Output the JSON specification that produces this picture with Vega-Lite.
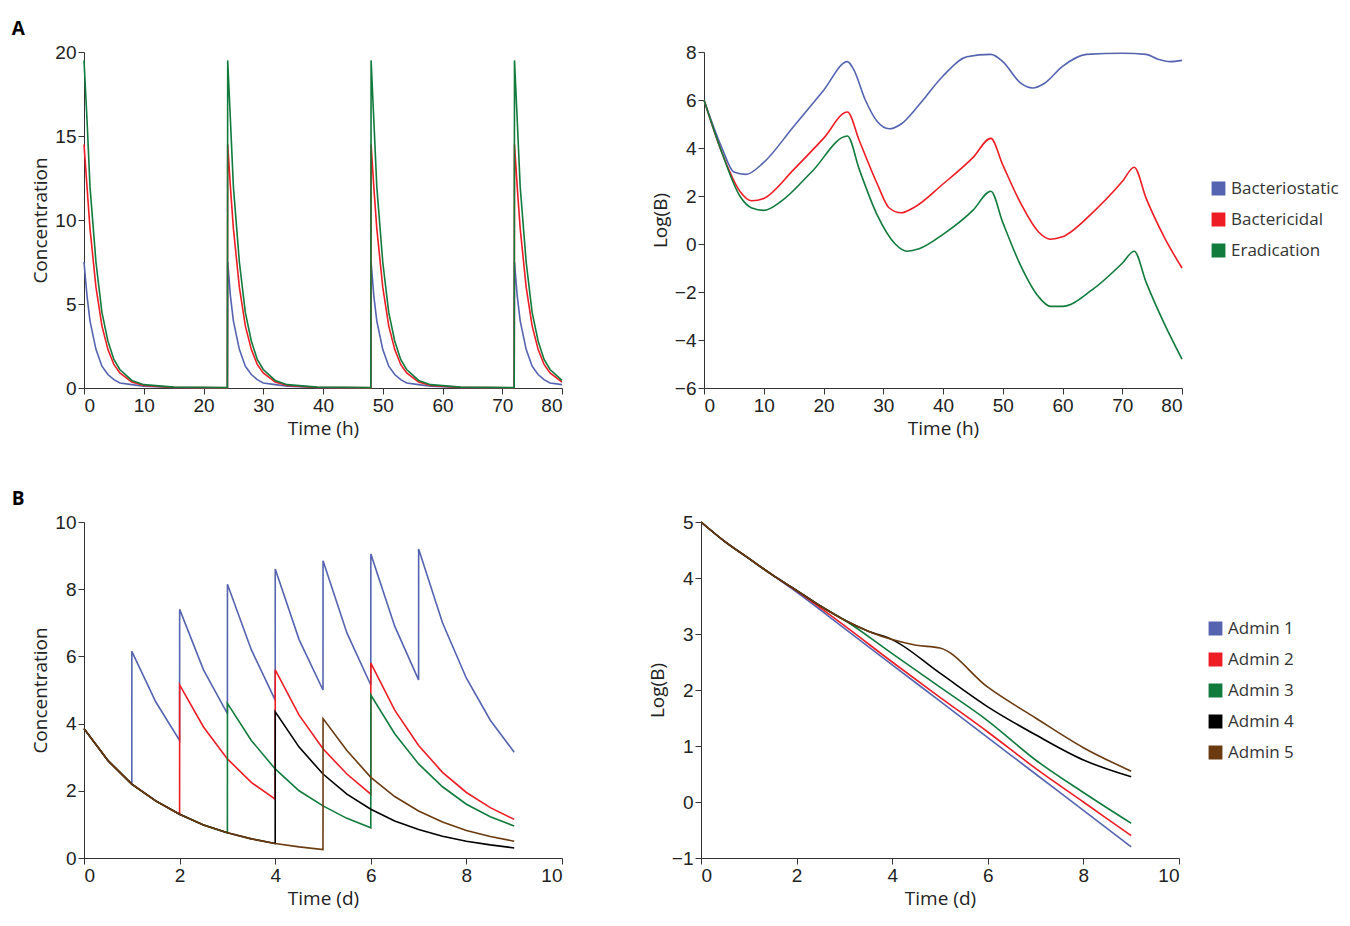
{
  "$schema": "https://vega.github.io/schema/vega-lite/v6.json",
  "background": "white",
  "padding": {"left": 11, "top": 20, "right": 5, "bottom": 5},
  "config": {
    "font": "Open Sans",
    "view": {"stroke": null},
    "axis": {"grid": false, "labelFontSize": 19, "titleFontSize": 19, "titleFontWeight": "normal", "labelColor": "#222", "titleColor": "#222", "domainColor": "#333", "tickColor": "#333", "tickSize": 6, "labelFont": "Liberation Sans"},
    "legend": {"labelFontSize": 17, "labelColor": "#333", "labelLimit": 300, "symbolType": "square", "symbolSize": 150, "symbolOpacity": 1, "title": null, "rowPadding": 12, "orient": "none"},
    "line": {"strokeWidth": 1.6},
    "title": {"fontSize": 19, "fontWeight": "bold", "anchor": "start", "offset": 0, "dx": -20}
  },
  "datasets": {
    "conc": [
      {"s":"Bacteriostatic","t":0,"v":7.5},{"s":"Bacteriostatic","t":0.5,"v":5.5},{"s":"Bacteriostatic","t":1,"v":4},{"s":"Bacteriostatic","t":2,"v":2.3},{"s":"Bacteriostatic","t":3,"v":1.3},{"s":"Bacteriostatic","t":4,"v":0.8},{"s":"Bacteriostatic","t":5,"v":0.5},{"s":"Bacteriostatic","t":6,"v":0.3},{"s":"Bacteriostatic","t":8,"v":0.2},{"s":"Bacteriostatic","t":10,"v":0.1},{"s":"Bacteriostatic","t":15,"v":0.03},{"s":"Bacteriostatic","t":24,"v":0.01},
      {"s":"Bacteriostatic","t":24.05,"v":7.5},{"s":"Bacteriostatic","t":24.5,"v":5.5},{"s":"Bacteriostatic","t":25,"v":4},{"s":"Bacteriostatic","t":26,"v":2.3},{"s":"Bacteriostatic","t":27,"v":1.3},{"s":"Bacteriostatic","t":28,"v":0.8},{"s":"Bacteriostatic","t":29,"v":0.5},{"s":"Bacteriostatic","t":30,"v":0.3},{"s":"Bacteriostatic","t":32,"v":0.2},{"s":"Bacteriostatic","t":34,"v":0.1},{"s":"Bacteriostatic","t":39,"v":0.03},{"s":"Bacteriostatic","t":48,"v":0.01},
      {"s":"Bacteriostatic","t":48.05,"v":7.5},{"s":"Bacteriostatic","t":48.5,"v":5.5},{"s":"Bacteriostatic","t":49,"v":4},{"s":"Bacteriostatic","t":50,"v":2.3},{"s":"Bacteriostatic","t":51,"v":1.3},{"s":"Bacteriostatic","t":52,"v":0.8},{"s":"Bacteriostatic","t":53,"v":0.5},{"s":"Bacteriostatic","t":54,"v":0.3},{"s":"Bacteriostatic","t":56,"v":0.2},{"s":"Bacteriostatic","t":58,"v":0.1},{"s":"Bacteriostatic","t":63,"v":0.03},{"s":"Bacteriostatic","t":72,"v":0.01},
      {"s":"Bacteriostatic","t":72.05,"v":7.5},{"s":"Bacteriostatic","t":72.5,"v":5.5},{"s":"Bacteriostatic","t":73,"v":4},{"s":"Bacteriostatic","t":74,"v":2.3},{"s":"Bacteriostatic","t":75,"v":1.3},{"s":"Bacteriostatic","t":76,"v":0.8},{"s":"Bacteriostatic","t":77,"v":0.5},{"s":"Bacteriostatic","t":78,"v":0.3},{"s":"Bacteriostatic","t":80,"v":0.2},
      {"s":"Bactericidal","t":0,"v":14.5},{"s":"Bactericidal","t":0.5,"v":12},{"s":"Bactericidal","t":1,"v":9.5},{"s":"Bactericidal","t":2,"v":6},{"s":"Bactericidal","t":3,"v":3.7},{"s":"Bactericidal","t":4,"v":2.3},{"s":"Bactericidal","t":5,"v":1.4},{"s":"Bactericidal","t":6,"v":0.9},{"s":"Bactericidal","t":8,"v":0.35},{"s":"Bactericidal","t":10,"v":0.15},{"s":"Bactericidal","t":15,"v":0.04},{"s":"Bactericidal","t":24,"v":0.01},
      {"s":"Bactericidal","t":24.05,"v":14.5},{"s":"Bactericidal","t":24.5,"v":12},{"s":"Bactericidal","t":25,"v":9.5},{"s":"Bactericidal","t":26,"v":6},{"s":"Bactericidal","t":27,"v":3.7},{"s":"Bactericidal","t":28,"v":2.3},{"s":"Bactericidal","t":29,"v":1.4},{"s":"Bactericidal","t":30,"v":0.9},{"s":"Bactericidal","t":32,"v":0.35},{"s":"Bactericidal","t":34,"v":0.15},{"s":"Bactericidal","t":39,"v":0.04},{"s":"Bactericidal","t":48,"v":0.01},
      {"s":"Bactericidal","t":48.05,"v":14.5},{"s":"Bactericidal","t":48.5,"v":12},{"s":"Bactericidal","t":49,"v":9.5},{"s":"Bactericidal","t":50,"v":6},{"s":"Bactericidal","t":51,"v":3.7},{"s":"Bactericidal","t":52,"v":2.3},{"s":"Bactericidal","t":53,"v":1.4},{"s":"Bactericidal","t":54,"v":0.9},{"s":"Bactericidal","t":56,"v":0.35},{"s":"Bactericidal","t":58,"v":0.15},{"s":"Bactericidal","t":63,"v":0.04},{"s":"Bactericidal","t":72,"v":0.01},
      {"s":"Bactericidal","t":72.05,"v":14.5},{"s":"Bactericidal","t":72.5,"v":12},{"s":"Bactericidal","t":73,"v":9.5},{"s":"Bactericidal","t":74,"v":6},{"s":"Bactericidal","t":75,"v":3.7},{"s":"Bactericidal","t":76,"v":2.3},{"s":"Bactericidal","t":77,"v":1.4},{"s":"Bactericidal","t":78,"v":0.9},{"s":"Bactericidal","t":80,"v":0.35},
      {"s":"Eradication","t":0,"v":19.5},{"s":"Eradication","t":0.5,"v":16},{"s":"Eradication","t":1,"v":12},{"s":"Eradication","t":2,"v":7.5},{"s":"Eradication","t":3,"v":4.5},{"s":"Eradication","t":4,"v":2.8},{"s":"Eradication","t":5,"v":1.7},{"s":"Eradication","t":6,"v":1.1},{"s":"Eradication","t":8,"v":0.45},{"s":"Eradication","t":10,"v":0.2},{"s":"Eradication","t":15,"v":0.05},{"s":"Eradication","t":24,"v":0.02},
      {"s":"Eradication","t":24.05,"v":19.5},{"s":"Eradication","t":24.5,"v":16},{"s":"Eradication","t":25,"v":12},{"s":"Eradication","t":26,"v":7.5},{"s":"Eradication","t":27,"v":4.5},{"s":"Eradication","t":28,"v":2.8},{"s":"Eradication","t":29,"v":1.7},{"s":"Eradication","t":30,"v":1.1},{"s":"Eradication","t":32,"v":0.45},{"s":"Eradication","t":34,"v":0.2},{"s":"Eradication","t":39,"v":0.05},{"s":"Eradication","t":48,"v":0.02},
      {"s":"Eradication","t":48.05,"v":19.5},{"s":"Eradication","t":48.5,"v":16},{"s":"Eradication","t":49,"v":12},{"s":"Eradication","t":50,"v":7.5},{"s":"Eradication","t":51,"v":4.5},{"s":"Eradication","t":52,"v":2.8},{"s":"Eradication","t":53,"v":1.7},{"s":"Eradication","t":54,"v":1.1},{"s":"Eradication","t":56,"v":0.45},{"s":"Eradication","t":58,"v":0.2},{"s":"Eradication","t":63,"v":0.05},{"s":"Eradication","t":72,"v":0.02},
      {"s":"Eradication","t":72.05,"v":19.5},{"s":"Eradication","t":72.5,"v":16},{"s":"Eradication","t":73,"v":12},{"s":"Eradication","t":74,"v":7.5},{"s":"Eradication","t":75,"v":4.5},{"s":"Eradication","t":76,"v":2.8},{"s":"Eradication","t":77,"v":1.7},{"s":"Eradication","t":78,"v":1.1},{"s":"Eradication","t":80,"v":0.45}
    ],
    "logb": [
      {"s":"Bacteriostatic","t":0,"v":6},{"s":"Bacteriostatic","t":3,"v":4},{"s":"Bacteriostatic","t":5,"v":3},{"s":"Bacteriostatic","t":7,"v":2.9},{"s":"Bacteriostatic","t":10,"v":3.4},{"s":"Bacteriostatic","t":15,"v":4.9},{"s":"Bacteriostatic","t":20,"v":6.4},{"s":"Bacteriostatic","t":24,"v":7.6},{"s":"Bacteriostatic","t":25,"v":7.3},{"s":"Bacteriostatic","t":27,"v":6},{"s":"Bacteriostatic","t":29,"v":5.1},{"s":"Bacteriostatic","t":31,"v":4.8},{"s":"Bacteriostatic","t":33,"v":5},{"s":"Bacteriostatic","t":36,"v":5.8},{"s":"Bacteriostatic","t":40,"v":7},{"s":"Bacteriostatic","t":44,"v":7.8},{"s":"Bacteriostatic","t":48,"v":7.9},{"s":"Bacteriostatic","t":50,"v":7.6},{"s":"Bacteriostatic","t":53,"v":6.7},{"s":"Bacteriostatic","t":55,"v":6.5},{"s":"Bacteriostatic","t":57,"v":6.7},{"s":"Bacteriostatic","t":60,"v":7.4},{"s":"Bacteriostatic","t":64,"v":7.9},{"s":"Bacteriostatic","t":70,"v":7.95},{"s":"Bacteriostatic","t":74,"v":7.9},{"s":"Bacteriostatic","t":76,"v":7.7},{"s":"Bacteriostatic","t":78,"v":7.6},{"s":"Bacteriostatic","t":80,"v":7.65},
      {"s":"Bactericidal","t":0,"v":6},{"s":"Bactericidal","t":3,"v":3.8},{"s":"Bactericidal","t":6,"v":2.2},{"s":"Bactericidal","t":8,"v":1.8},{"s":"Bactericidal","t":10,"v":1.9},{"s":"Bactericidal","t":15,"v":3.1},{"s":"Bactericidal","t":20,"v":4.4},{"s":"Bactericidal","t":24,"v":5.5},{"s":"Bactericidal","t":26,"v":4.3},{"s":"Bactericidal","t":29,"v":2.5},{"s":"Bactericidal","t":31,"v":1.5},{"s":"Bactericidal","t":33,"v":1.3},{"s":"Bactericidal","t":35,"v":1.5},{"s":"Bactericidal","t":40,"v":2.5},{"s":"Bactericidal","t":45,"v":3.6},{"s":"Bactericidal","t":48,"v":4.4},{"s":"Bactericidal","t":50,"v":3.3},{"s":"Bactericidal","t":53,"v":1.7},{"s":"Bactericidal","t":56,"v":0.5},{"s":"Bactericidal","t":58,"v":0.2},{"s":"Bactericidal","t":60,"v":0.3},{"s":"Bactericidal","t":65,"v":1.3},{"s":"Bactericidal","t":70,"v":2.6},{"s":"Bactericidal","t":72,"v":3.2},{"s":"Bactericidal","t":74,"v":1.9},{"s":"Bactericidal","t":77,"v":0.3},{"s":"Bactericidal","t":80,"v":-1},
      {"s":"Eradication","t":0,"v":6},{"s":"Eradication","t":3,"v":3.8},{"s":"Eradication","t":6,"v":2},{"s":"Eradication","t":8,"v":1.5},{"s":"Eradication","t":10,"v":1.4},{"s":"Eradication","t":13,"v":1.8},{"s":"Eradication","t":18,"v":3},{"s":"Eradication","t":24,"v":4.5},{"s":"Eradication","t":26,"v":3.1},{"s":"Eradication","t":29,"v":1.2},{"s":"Eradication","t":32,"v":0},{"s":"Eradication","t":34,"v":-0.3},{"s":"Eradication","t":36,"v":-0.2},{"s":"Eradication","t":40,"v":0.4},{"s":"Eradication","t":45,"v":1.4},{"s":"Eradication","t":48,"v":2.2},{"s":"Eradication","t":50,"v":0.9},{"s":"Eradication","t":53,"v":-0.9},{"s":"Eradication","t":56,"v":-2.2},{"s":"Eradication","t":58,"v":-2.6},{"s":"Eradication","t":60,"v":-2.6},{"s":"Eradication","t":65,"v":-1.9},{"s":"Eradication","t":70,"v":-0.8},{"s":"Eradication","t":72,"v":-0.3},{"s":"Eradication","t":74,"v":-1.6},{"s":"Eradication","t":77,"v":-3.3},{"s":"Eradication","t":80,"v":-4.8}
    ],
    "admc": [
      {"s":"Admin 1","t":0,"v":3.85},{"s":"Admin 1","t":0.5,"v":2.9},{"s":"Admin 1","t":1,"v":2.2},{"s":"Admin 1","t":1.001,"v":6.15},{"s":"Admin 1","t":1.5,"v":4.65},{"s":"Admin 1","t":2,"v":3.5},{"s":"Admin 1","t":2.001,"v":7.4},{"s":"Admin 1","t":2.5,"v":5.6},{"s":"Admin 1","t":3,"v":4.3},{"s":"Admin 1","t":3.001,"v":8.15},{"s":"Admin 1","t":3.5,"v":6.2},{"s":"Admin 1","t":4,"v":4.7},{"s":"Admin 1","t":4.001,"v":8.6},{"s":"Admin 1","t":4.5,"v":6.5},{"s":"Admin 1","t":5,"v":5},{"s":"Admin 1","t":5.001,"v":8.85},{"s":"Admin 1","t":5.5,"v":6.7},{"s":"Admin 1","t":6,"v":5.15},{"s":"Admin 1","t":6.001,"v":9.05},{"s":"Admin 1","t":6.5,"v":6.9},{"s":"Admin 1","t":7,"v":5.3},{"s":"Admin 1","t":7.001,"v":9.2},{"s":"Admin 1","t":7.5,"v":7},{"s":"Admin 1","t":8,"v":5.35},{"s":"Admin 1","t":8.5,"v":4.1},{"s":"Admin 1","t":9,"v":3.15},
      {"s":"Admin 2","t":0,"v":3.85},{"s":"Admin 2","t":0.5,"v":2.9},{"s":"Admin 2","t":1,"v":2.2},{"s":"Admin 2","t":1.5,"v":1.7},{"s":"Admin 2","t":2,"v":1.3},{"s":"Admin 2","t":2.001,"v":5.15},{"s":"Admin 2","t":2.5,"v":3.9},{"s":"Admin 2","t":3,"v":2.95},{"s":"Admin 2","t":3.5,"v":2.25},{"s":"Admin 2","t":4,"v":1.75},{"s":"Admin 2","t":4.001,"v":5.6},{"s":"Admin 2","t":4.5,"v":4.25},{"s":"Admin 2","t":5,"v":3.25},{"s":"Admin 2","t":5.5,"v":2.5},{"s":"Admin 2","t":6,"v":1.9},{"s":"Admin 2","t":6.001,"v":5.8},{"s":"Admin 2","t":6.5,"v":4.4},{"s":"Admin 2","t":7,"v":3.35},{"s":"Admin 2","t":7.5,"v":2.55},{"s":"Admin 2","t":8,"v":1.95},{"s":"Admin 2","t":8.5,"v":1.5},{"s":"Admin 2","t":9,"v":1.15},
      {"s":"Admin 3","t":0,"v":3.85},{"s":"Admin 3","t":0.5,"v":2.9},{"s":"Admin 3","t":1,"v":2.2},{"s":"Admin 3","t":1.5,"v":1.7},{"s":"Admin 3","t":2,"v":1.3},{"s":"Admin 3","t":2.5,"v":0.98},{"s":"Admin 3","t":3,"v":0.75},{"s":"Admin 3","t":3.001,"v":4.6},{"s":"Admin 3","t":3.5,"v":3.5},{"s":"Admin 3","t":4,"v":2.65},{"s":"Admin 3","t":4.5,"v":2},{"s":"Admin 3","t":5,"v":1.55},{"s":"Admin 3","t":5.5,"v":1.18},{"s":"Admin 3","t":6,"v":0.9},{"s":"Admin 3","t":6.001,"v":4.85},{"s":"Admin 3","t":6.5,"v":3.7},{"s":"Admin 3","t":7,"v":2.8},{"s":"Admin 3","t":7.5,"v":2.12},{"s":"Admin 3","t":8,"v":1.6},{"s":"Admin 3","t":8.5,"v":1.23},{"s":"Admin 3","t":9,"v":0.95},
      {"s":"Admin 4","t":0,"v":3.85},{"s":"Admin 4","t":0.5,"v":2.9},{"s":"Admin 4","t":1,"v":2.2},{"s":"Admin 4","t":1.5,"v":1.7},{"s":"Admin 4","t":2,"v":1.3},{"s":"Admin 4","t":2.5,"v":0.98},{"s":"Admin 4","t":3,"v":0.75},{"s":"Admin 4","t":3.5,"v":0.57},{"s":"Admin 4","t":4,"v":0.43},{"s":"Admin 4","t":4.001,"v":4.35},{"s":"Admin 4","t":4.5,"v":3.3},{"s":"Admin 4","t":5,"v":2.5},{"s":"Admin 4","t":5.5,"v":1.9},{"s":"Admin 4","t":6,"v":1.45},{"s":"Admin 4","t":6.5,"v":1.1},{"s":"Admin 4","t":7,"v":0.85},{"s":"Admin 4","t":7.5,"v":0.65},{"s":"Admin 4","t":8,"v":0.5},{"s":"Admin 4","t":8.5,"v":0.39},{"s":"Admin 4","t":9,"v":0.3},
      {"s":"Admin 5","t":0,"v":3.85},{"s":"Admin 5","t":0.5,"v":2.9},{"s":"Admin 5","t":1,"v":2.2},{"s":"Admin 5","t":1.5,"v":1.7},{"s":"Admin 5","t":2,"v":1.3},{"s":"Admin 5","t":2.5,"v":0.98},{"s":"Admin 5","t":3,"v":0.75},{"s":"Admin 5","t":3.5,"v":0.57},{"s":"Admin 5","t":4,"v":0.43},{"s":"Admin 5","t":4.5,"v":0.33},{"s":"Admin 5","t":5,"v":0.25},{"s":"Admin 5","t":5.001,"v":4.15},{"s":"Admin 5","t":5.5,"v":3.2},{"s":"Admin 5","t":6,"v":2.4},{"s":"Admin 5","t":6.5,"v":1.83},{"s":"Admin 5","t":7,"v":1.4},{"s":"Admin 5","t":7.5,"v":1.07},{"s":"Admin 5","t":8,"v":0.82},{"s":"Admin 5","t":8.5,"v":0.64},{"s":"Admin 5","t":9,"v":0.5}
    ],
    "admb": [
      {"s":"Admin 1","t":0,"v":5},{"s":"Admin 1","t":0.5,"v":4.65},{"s":"Admin 1","t":1,"v":4.35},{"s":"Admin 1","t":1.5,"v":4.05},{"s":"Admin 1","t":2,"v":3.75},{"s":"Admin 1","t":3,"v":3.1},{"s":"Admin 1","t":4,"v":2.45},{"s":"Admin 1","t":5,"v":1.8},{"s":"Admin 1","t":6,"v":1.15},{"s":"Admin 1","t":7,"v":0.5},{"s":"Admin 1","t":8,"v":-0.15},{"s":"Admin 1","t":9,"v":-0.8},
      {"s":"Admin 2","t":0,"v":5},{"s":"Admin 2","t":0.5,"v":4.65},{"s":"Admin 2","t":1,"v":4.35},{"s":"Admin 2","t":1.5,"v":4.05},{"s":"Admin 2","t":2,"v":3.77},{"s":"Admin 2","t":3,"v":3.15},{"s":"Admin 2","t":4,"v":2.5},{"s":"Admin 2","t":5,"v":1.87},{"s":"Admin 2","t":6,"v":1.25},{"s":"Admin 2","t":7,"v":0.6},{"s":"Admin 2","t":8,"v":0},{"s":"Admin 2","t":9,"v":-0.6},
      {"s":"Admin 3","t":0,"v":5},{"s":"Admin 3","t":0.5,"v":4.65},{"s":"Admin 3","t":1,"v":4.35},{"s":"Admin 3","t":1.5,"v":4.05},{"s":"Admin 3","t":2,"v":3.78},{"s":"Admin 3","t":2.5,"v":3.5},{"s":"Admin 3","t":3,"v":3.25},{"s":"Admin 3","t":4,"v":2.65},{"s":"Admin 3","t":5,"v":2.05},{"s":"Admin 3","t":6,"v":1.45},{"s":"Admin 3","t":7,"v":0.75},{"s":"Admin 3","t":8,"v":0.17},{"s":"Admin 3","t":9,"v":-0.38},
      {"s":"Admin 4","t":0,"v":5},{"s":"Admin 4","t":0.5,"v":4.65},{"s":"Admin 4","t":1,"v":4.35},{"s":"Admin 4","t":1.5,"v":4.05},{"s":"Admin 4","t":2,"v":3.78},{"s":"Admin 4","t":2.5,"v":3.5},{"s":"Admin 4","t":3,"v":3.25},{"s":"Admin 4","t":3.5,"v":3.05},{"s":"Admin 4","t":4,"v":2.9},{"s":"Admin 4","t":5,"v":2.3},{"s":"Admin 4","t":6,"v":1.7},{"s":"Admin 4","t":7,"v":1.2},{"s":"Admin 4","t":8,"v":0.75},{"s":"Admin 4","t":9,"v":0.45},
      {"s":"Admin 5","t":0,"v":5},{"s":"Admin 5","t":0.5,"v":4.65},{"s":"Admin 5","t":1,"v":4.35},{"s":"Admin 5","t":1.5,"v":4.05},{"s":"Admin 5","t":2,"v":3.78},{"s":"Admin 5","t":2.5,"v":3.5},{"s":"Admin 5","t":3,"v":3.25},{"s":"Admin 5","t":3.5,"v":3.05},{"s":"Admin 5","t":4,"v":2.9},{"s":"Admin 5","t":4.5,"v":2.8},{"s":"Admin 5","t":5,"v":2.75},{"s":"Admin 5","t":6,"v":2.05},{"s":"Admin 5","t":7,"v":1.5},{"s":"Admin 5","t":8,"v":0.97},{"s":"Admin 5","t":9,"v":0.55}
    ]
  },
  "vconcat": [
    {
      "title": "A",
      "spacing": 85,
      "hconcat": [
        {
          "width": 478, "height": 336,
          "data": {"name": "conc"},
          "mark": {"type": "line"},
          "encoding": {
            "x": {"field": "t", "type": "quantitative", "title": "Time (h)", "scale": {"domain": [0, 80], "nice": false}, "axis": {"values": [0,10,20,30,40,50,60,70,80]}},
            "y": {"field": "v", "type": "quantitative", "title": "Concentration", "scale": {"domain": [0, 20], "nice": false}, "axis": {"values": [0,5,10,15,20]}},
            "color": {"field": "s", "type": "nominal", "scale": {"domain": ["Bacteriostatic","Bactericidal","Eradication"], "range": ["#5563b0","#ee1c24","#117a3d"]}, "legend": null}
          }
        },
        {
          "width": 478, "height": 336,
          "data": {"name": "logb"},
          "encoding": {
            "x": {"field": "t", "type": "quantitative", "title": "Time (h)", "scale": {"domain": [0, 80], "nice": false}, "axis": {"values": [0,10,20,30,40,50,60,70,80]}},
            "y": {"field": "v", "type": "quantitative", "title": "Log(B)", "scale": {"domain": [-6, 8], "nice": false}, "axis": {"values": [-6,-4,-2,0,2,4,6,8]}},
            "color": {"field": "s", "type": "nominal", "scale": {"domain": ["Bacteriostatic","Bactericidal","Eradication"], "range": ["#5563b0","#ee1c24","#117a3d"]}, "legend": {"legendX": 506, "legendY": 128}}
          },
          "layer": [
            {"transform": [{"filter": "datum.t < 0"}], "mark": {"type": "point", "shape": "square", "filled": true, "opacity": 1}},
            {"mark": {"type": "line", "interpolate": "monotone"}}
          ]
        }
      ],
      "resolve": {"scale": {"color": "independent"}}
    },
    {
      "title": "B",
      "spacing": 85,
      "hconcat": [
        {
          "width": 478, "height": 336,
          "data": {"name": "admc"},
          "mark": {"type": "line"},
          "encoding": {
            "x": {"field": "t", "type": "quantitative", "title": "Time (d)", "scale": {"domain": [0, 10], "nice": false}, "axis": {"values": [0,2,4,6,8,10]}},
            "y": {"field": "v", "type": "quantitative", "title": "Concentration", "scale": {"domain": [0, 10], "nice": false}, "axis": {"values": [0,2,4,6,8,10]}},
            "color": {"field": "s", "type": "nominal", "scale": {"domain": ["Admin 1","Admin 2","Admin 3","Admin 4","Admin 5"], "range": ["#5563b0","#ee1c24","#117a3d","#000000","#6b3a10"]}, "legend": null}
          }
        },
        {
          "width": 478, "height": 336,
          "data": {"name": "admb"},
          "encoding": {
            "x": {"field": "t", "type": "quantitative", "title": "Time (d)", "scale": {"domain": [0, 10], "nice": false}, "axis": {"values": [0,2,4,6,8,10]}},
            "y": {"field": "v", "type": "quantitative", "title": "Log(B)", "scale": {"domain": [-1, 5], "nice": false}, "axis": {"values": [-1,0,1,2,3,4,5]}},
            "color": {"field": "s", "type": "nominal", "scale": {"domain": ["Admin 1","Admin 2","Admin 3","Admin 4","Admin 5"], "range": ["#5563b0","#ee1c24","#117a3d","#000000","#6b3a10"]}, "legend": {"legendX": 506, "legendY": 98}}
          },
          "layer": [
            {"transform": [{"filter": "datum.t < 0"}], "mark": {"type": "point", "shape": "square", "filled": true, "opacity": 1}},
            {"mark": {"type": "line", "interpolate": "monotone"}}
          ]
        }
      ],
      "resolve": {"scale": {"color": "independent"}}
    }
  ],
  "spacing": 52
}
